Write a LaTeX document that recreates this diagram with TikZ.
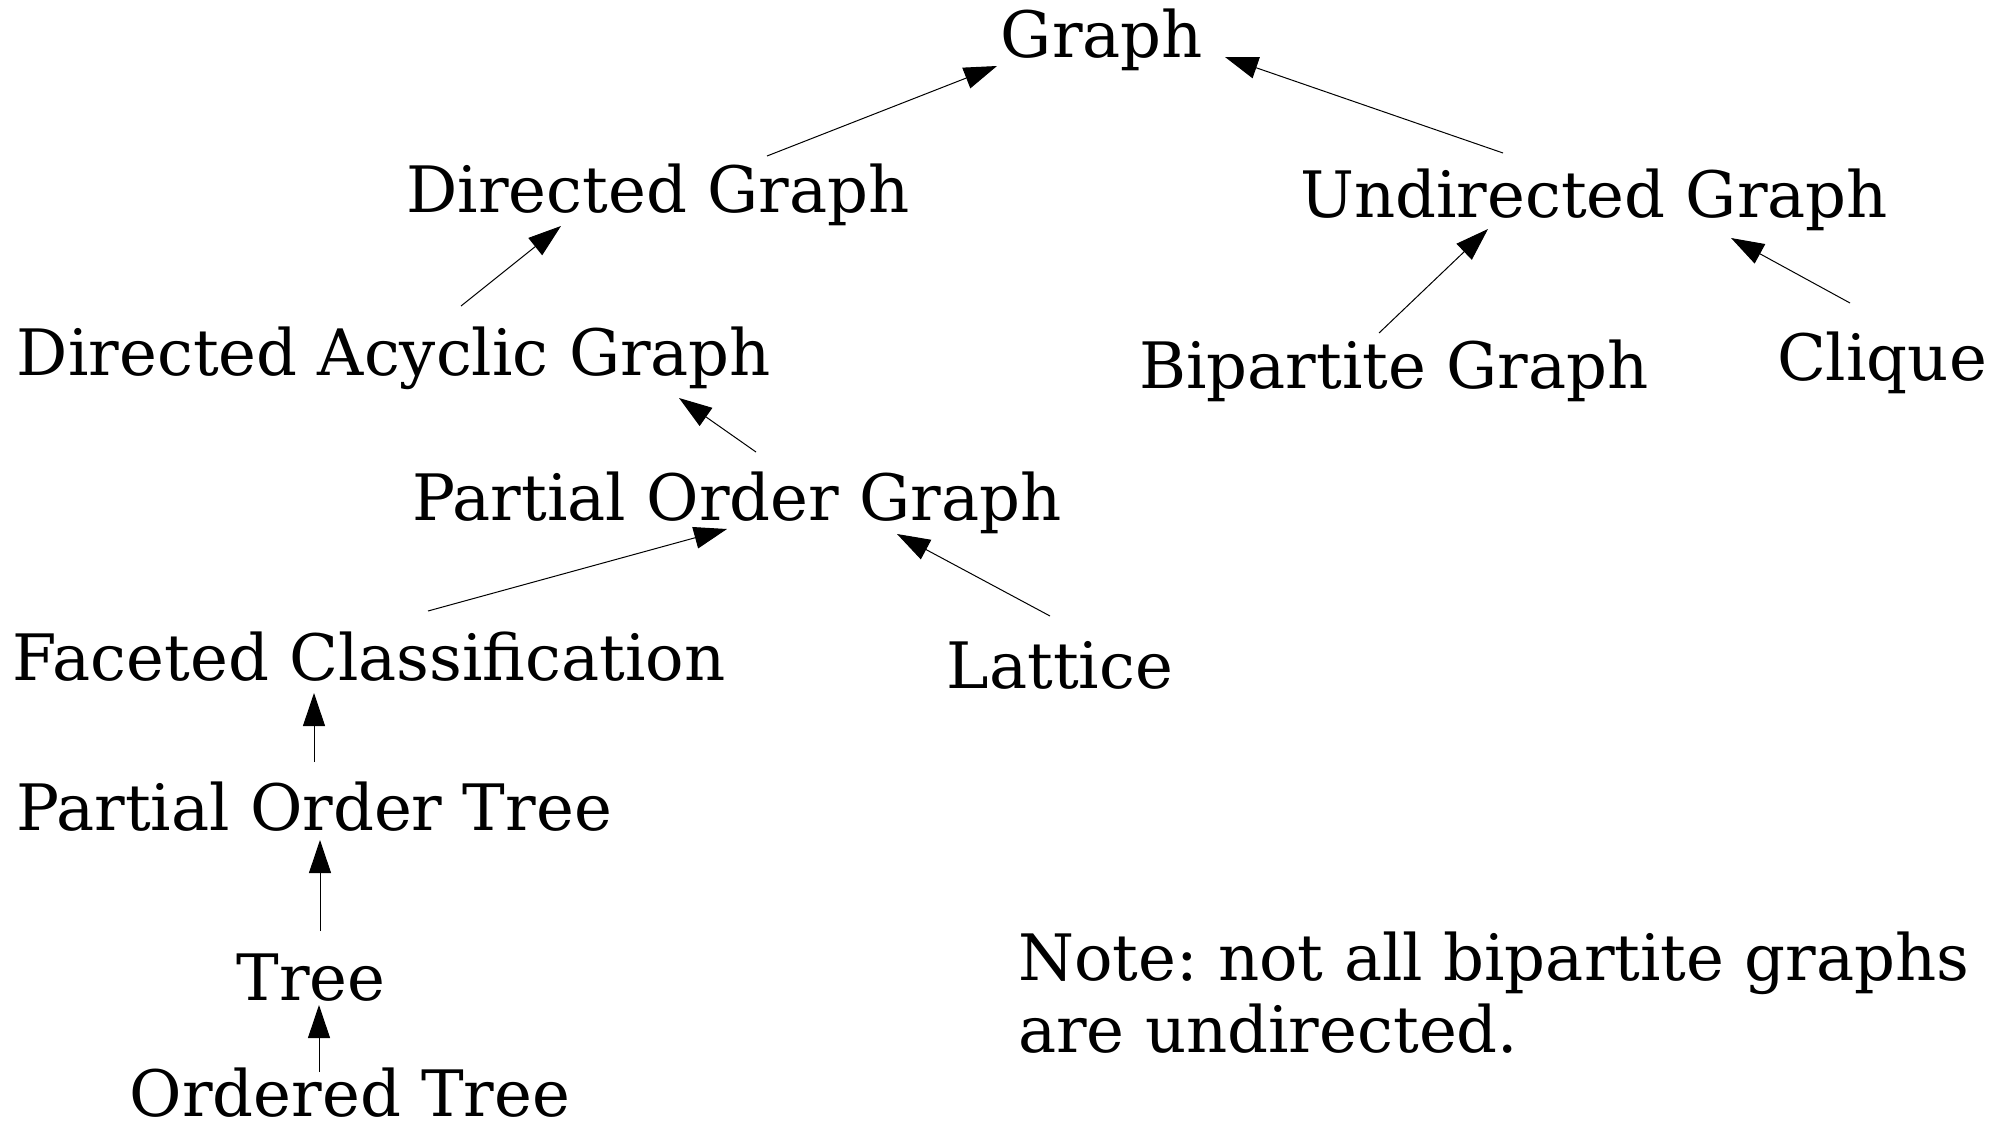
\documentclass[tikz,border=0pt]{standalone}
\usepackage{fontspec}
\setmainfont{DejaVu Serif}
\usetikzlibrary{arrows.meta}
\begin{document}
\frenchspacing
\begin{tikzpicture}[x=1pt,y=-1pt,
  lbl/.style={inner sep=0pt, text height=46pt, text depth=14pt,
    font=\fontsize{64}{72}\selectfont},
  arr/.style={line width=1pt, -{Triangle[length=33pt,width=22pt]}}]
\useasboundingbox (0,0) rectangle (2005,1122);
\node[lbl] (g)   at (1102,41)  {Graph};
\node[lbl] (dg)  at (658,196)  {Directed Graph};
\node[lbl] (ug)  at (1594,201) {Undirected Graph};
\node[lbl] (dag) at (394,359)  {Directed Acyclic Graph};
\node[lbl] (bip) at (1394,372) {Bipartite Graph};
\node[lbl] (cl)  at (1882,364) {Clique};
\node[lbl] (pog) at (737,504)  {Partial Order Graph};
\node[lbl] (fc)  at (369,664)  {Faceted Classification};
\node[lbl] (lat) at (1060,672) {Lattice};
\node[lbl] (pot) at (314,814)  {Partial Order Tree};
\node[lbl] (tr)  at (311,984)  {Tree};
\node[lbl, text depth=4pt] (ot) at (350,1095) {Ordered Tree};
\node[inner sep=0pt, anchor=north west, align=left,
  font=\fontsize{64}{72}\selectfont] (note) at (1018,932)
  {Note: not all bipartite graphs\\are undirected.};
\draw[arr] ([xshift=109pt,yshift=40pt]dg.center) -- ([xshift=-105pt,yshift=-25pt]g.center);
\draw[arr] ([xshift=-91pt,yshift=48pt]ug.center) -- ([xshift=123pt,yshift=-16pt]g.center);
\draw[arr] ([xshift=67pt,yshift=53pt]dag.center) -- ([xshift=-97pt,yshift=-30pt]dg.center);
\draw[arr] ([xshift=-15pt,yshift=39pt]bip.center) -- ([xshift=-106pt,yshift=-28pt]ug.center);
\draw[arr] ([xshift=-32pt,yshift=61pt]cl.center) -- ([xshift=137pt,yshift=-37pt]ug.center);
\draw[arr] ([xshift=19pt,yshift=52pt]pog.center) -- ([xshift=285pt,yshift=-39pt]dag.center);
\draw[arr] ([xshift=59pt,yshift=53pt]fc.center) -- ([xshift=-10pt,yshift=-25pt]pog.center);
\draw[arr] ([xshift=-10pt,yshift=56pt]lat.center) -- ([xshift=160pt,yshift=-30pt]pog.center);
\draw[arr] ([xshift=0pt,yshift=52pt]pot.center) -- ([xshift=-55pt,yshift=-29pt]fc.center);
\draw[arr] ([xshift=9pt,yshift=53pt]tr.center) -- ([xshift=6pt,yshift=-26pt]pot.center);
\draw[arr] ([xshift=-31pt,yshift=23pt]ot.center) -- ([xshift=8pt,yshift=-21pt]tr.center);
\end{tikzpicture}
\end{document}
